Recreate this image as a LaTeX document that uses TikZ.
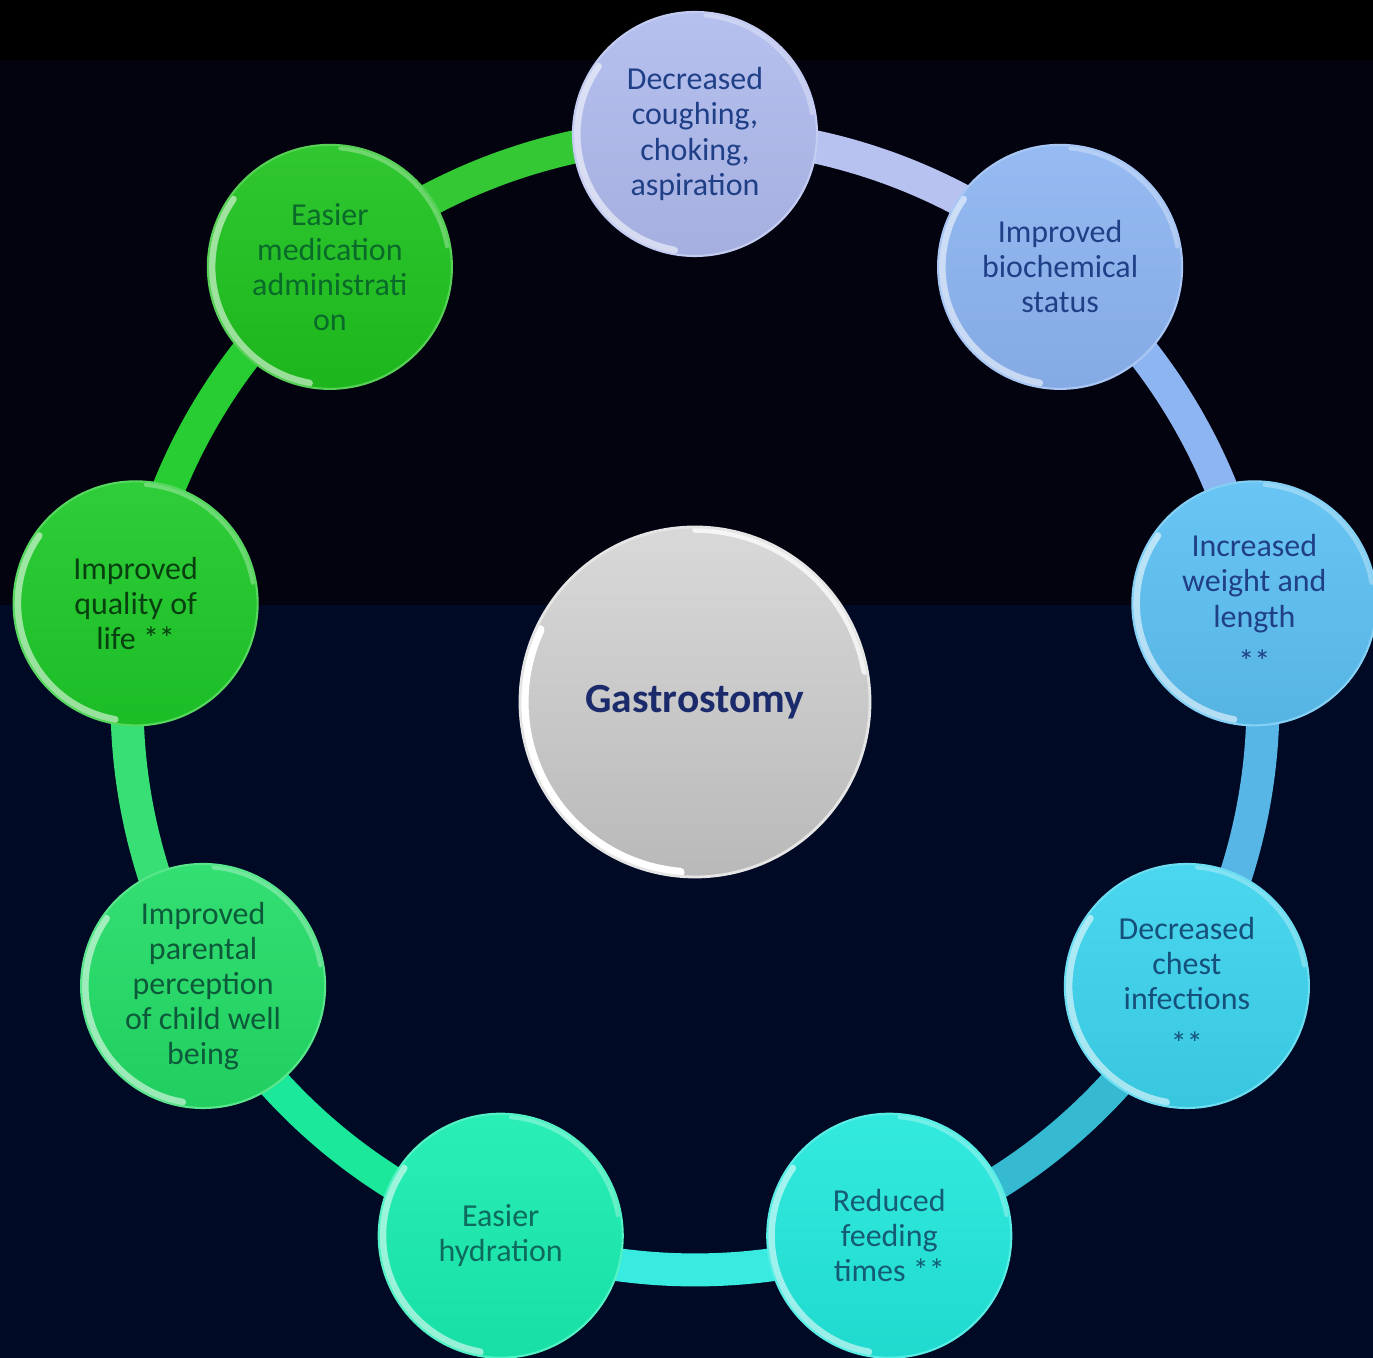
\documentclass[tikz,border=0pt]{standalone}
\usepackage{fontspec}
\setmainfont{Carlito}
\usetikzlibrary{backgrounds}

% colours of the page
\definecolor{pagetop}{RGB}{0,0,0}
\definecolor{pageupper}{RGB}{3,3,16}
\definecolor{pagelower}{RGB}{0,10,36}
% colours of the bubbles
\definecolor{coughcol}{RGB}{176,187,238}
\definecolor{biochemcol}{RGB}{141,181,242}
\definecolor{weightcol}{RGB}{92,192,242}
\definecolor{chestcol}{RGB}{60,211,238}
\definecolor{feedingcol}{RGB}{34,232,220}
\definecolor{hydrationcol}{RGB}{24,237,176}
\definecolor{parentalcol}{RGB}{34,220,102}
\definecolor{qualitycol}{RGB}{29,201,40}
\definecolor{medicationcol}{RGB}{30,194,30}
% colours of the texts
\definecolor{navytext}{RGB}{31,63,134}
\definecolor{chesttext}{RGB}{21,80,122}
\definecolor{feedingtext}{RGB}{21,91,117}
\definecolor{hydrationtext}{RGB}{14,106,92}
\definecolor{parentaltext}{RGB}{13,90,58}
\definecolor{qualitytext}{RGB}{8,64,15}
\definecolor{medicationtext}{RGB}{10,106,42}
\definecolor{hubtext}{RGB}{27,42,107}

\newcommand\bubblefont{\fontsize{9.1}{10}\selectfont}

\tikzset{
  bubble/.style 2 args={circle, minimum size=2.44cm, inner sep=0pt, align=center,
    top color=#1!92!white, bottom color=#1!94!black, draw=#1!75!white, line width=0.6pt,
    text=#2, font=\bubblefont,
    path picture={
      \draw[white, opacity=.55, line width=2pt, line cap=round]
        ([shift={(145:1.18)}]path picture bounding box.center)
        arc[start angle=145, end angle=260, radius=1.18];
      \draw[white, opacity=.3, line width=1.2pt, line cap=round]
        ([shift={(10:1.19)}]path picture bounding box.center)
        arc[start angle=10, end angle=85, radius=1.19];
    }},
  hub/.style={circle, minimum size=3.5cm, inner sep=0pt,
    top color=gray!30, bottom color=gray!55, draw=white!80!gray, line width=0.8pt,
    text=hubtext, font=\fontsize{11.8}{13}\selectfont\bfseries,
    path picture={
      \draw[white, line width=2.6pt, line cap=round]
        ([shift={(155:1.71)}]path picture bounding box.center)
        arc[start angle=155, end angle=265, radius=1.71];
      \draw[white, opacity=.75, line width=1.6pt, line cap=round]
        ([shift={(10:1.72)}]path picture bounding box.center)
        arc[start angle=10, end angle=90, radius=1.72];
    }},
  band/.style={line width=3.3mm, draw=#1}
}

\begin{document}
\begin{tikzpicture}
\useasboundingbox (-6.95,-6.56) rectangle (6.78,7.02);

% hub
\node[hub] (gastro) at (0,0) {Gastrostomy};

% bubbles round the ring, every 40 degrees
\node[bubble={coughcol}{navytext}] (cough) at (90:5.68)
  {Decreased\\coughing,\\choking,\\aspiration};
\node[bubble={biochemcol}{navytext}] (biochem) at (50:5.68)
  {Improved\\biochemical\\status};
\node[bubble={weightcol}{navytext}] (weight) at (10:5.68)
  {Increased\\weight and\\length\\[0.1cm]**};
\node[bubble={chestcol}{chesttext}] (chest) at (-30:5.68)
  {Decreased\\chest\\infections\\[0.1cm]**};
\node[bubble={feedingcol}{feedingtext}] (feeding) at (-70:5.68)
  {Reduced\\feeding\\times **};
\node[bubble={hydrationcol}{hydrationtext}] (hydration) at (-110:5.68)
  {Easier\\hydration};
\node[bubble={parentalcol}{parentaltext}] (parental) at (-150:5.68)
  {Improved\\parental\\perception\\of child well\\being};
\node[bubble={qualitycol}{qualitytext}] (quality) at (170:5.68)
  {Improved\\quality of\\life **};
\node[bubble={medicationcol}{medicationtext}] (medication) at (130:5.68)
  {Easier\\medication\\administrati\\on};

\begin{scope}[on background layer]
  % page
  \fill[pagelower] (-6.95,-6.56) rectangle (6.78,0.97);
  \fill[pageupper] (-6.95,0.97) rectangle (6.78,6.42);
  \fill[pagetop] (-6.95,6.42) rectangle (6.78,7.02);

  % ring
  \foreach \from/\to/\col in {cough/biochem/coughcol!90!white,
      biochem/weight/biochemcol, weight/chest/weightcol!95!black,
      chest/feeding/chestcol!88!black, feeding/hydration/feedingcol!90!white,
      hydration/parental/hydrationcol!70!parentalcol, parental/quality/parentalcol!90!white,
      quality/medication/qualitycol!95!white, medication/cough/medicationcol!90!white}
    \draw[band=\col] (\from.center) to[bend left=20, looseness=.88] (\to.center);
\end{scope}
\end{tikzpicture}
\end{document}
